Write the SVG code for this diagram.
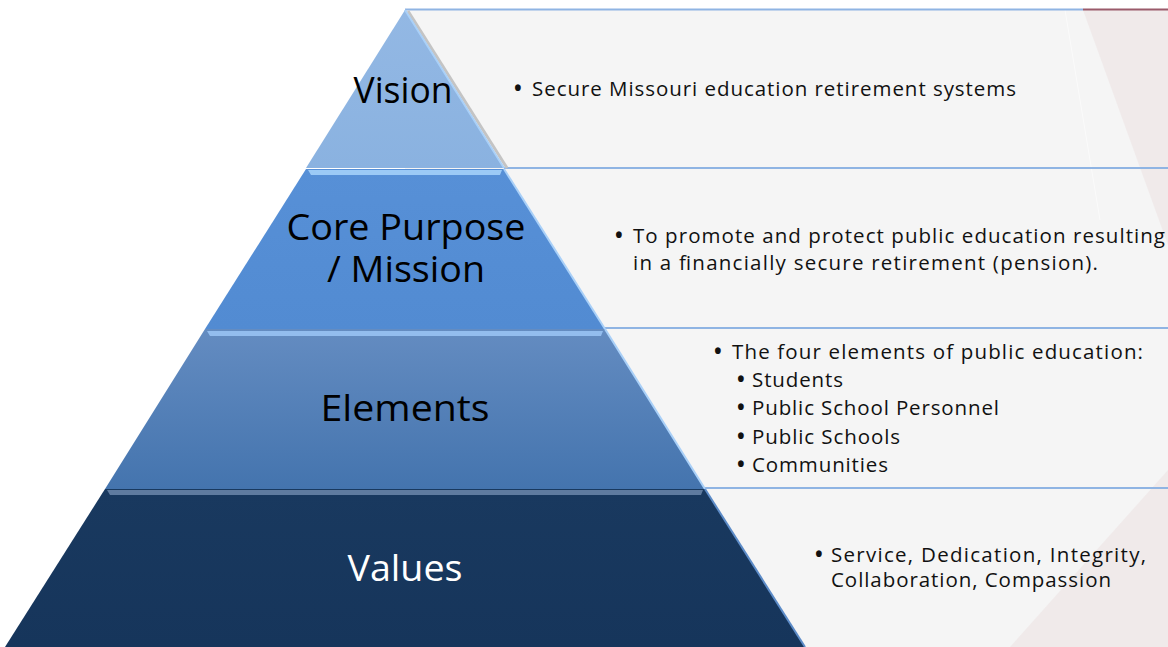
<svg xmlns="http://www.w3.org/2000/svg" width="1168" height="647" viewBox="0 0 1168 647">
<defs>
<linearGradient id="gVision" x1="0" y1="0" x2="0" y2="1"><stop offset="0" stop-color="#93b8e4"/><stop offset="1" stop-color="#8ab2e0"/></linearGradient>
<linearGradient id="gCore" x1="0" y1="0" x2="0" y2="1"><stop offset="0" stop-color="#5790d7"/><stop offset="1" stop-color="#528bd2"/></linearGradient>
<linearGradient id="gElem" x1="0" y1="0" x2="0" y2="1"><stop offset="0" stop-color="#648cc1"/><stop offset="1" stop-color="#4474ae"/></linearGradient>
<linearGradient id="gVal" x1="0" y1="0" x2="0" y2="1"><stop offset="0" stop-color="#19395f"/><stop offset="1" stop-color="#16355b"/></linearGradient>
<style>
.panel{fill:#f5f5f5}
.rule{stroke:#8fb4e3;stroke-width:2;fill:none}
.edge{stroke:#a9d0f8;stroke-width:2;fill:none}
.lbl{font-family:"Open Sans","Liberation Sans",sans-serif;font-size:36px;text-anchor:middle;fill:#000}
.txt{font-family:"Open Sans","Liberation Sans",sans-serif;font-size:20.5px;fill:#111}
.bul{font-family:"Open Sans","Liberation Sans",sans-serif;font-size:20.5px;font-weight:bold;fill:#111}
</style>
</defs>
<rect width="1168" height="647" fill="#ffffff"/>
<g id="background">
<rect class="panel" x="405" y="10" width="763" height="637"/>
<polygon points="1083,10 1168,10 1168,245" fill="#e8d6d6" opacity="0.35"/>
<polygon points="1168,470 1168,647 1010,647" fill="#e8d6d6" opacity="0.35"/>
<line x1="1065" y1="10" x2="1100" y2="220" stroke="#ffffff" stroke-width="1" opacity="0.6"/>
<line x1="405" y1="9.5" x2="1083" y2="9.5" class="rule"/>
<line x1="1083" y1="9.5" x2="1168" y2="9.5" stroke="#9a5a6a" stroke-width="2"/>
<line x1="504" y1="168" x2="1168" y2="168" class="rule"/>
<line x1="605" y1="328" x2="1168" y2="328" class="rule"/>
<line x1="705" y1="488" x2="1168" y2="488" class="rule"/>
</g>
<g id="vision">
<line x1="408" y1="11" x2="507" y2="168" stroke="#c4c4c4" stroke-width="3"/>
<polygon points="405,10 504,168 306,168" fill="url(#gVision)"/>
<line x1="405" y1="10" x2="504" y2="168" class="edge"/>
<text class="lbl" x="403" y="103" textLength="99" lengthAdjust="spacingAndGlyphs">Vision</text>
<text class="bul" x="514" y="96">•</text>
<text class="txt" x="532" y="96" textLength="484">Secure Missouri education retirement systems</text>
</g>
<g id="core-purpose">
<polygon points="306,169 504,169 605,329 205,329" fill="url(#gCore)"/>
<polygon points="308,170 502,170 500,175 311,175" fill="#9ccaf6"/>
<line x1="504" y1="169" x2="605" y2="329" class="edge"/>
<text class="lbl" x="406" y="240" textLength="239" lengthAdjust="spacingAndGlyphs">Core Purpose</text>
<text class="lbl" x="406" y="282" textLength="158" lengthAdjust="spacingAndGlyphs">/ Mission</text>
<text class="bul" x="615" y="243">•</text>
<text class="txt" x="633" y="243" textLength="532">To promote and protect public education resulting</text>
<text class="txt" x="633" y="270" textLength="465">in a financially secure retirement (pension).</text>
</g>
<g id="elements">
<polygon points="205,329 605,329 705,489 105,489" fill="url(#gElem)"/>
<polygon points="207,331 603,331 601,336 210,336" fill="#93bdee"/>
<line x1="605" y1="329" x2="705" y2="489" class="edge"/>
<text class="lbl" x="405" y="421" textLength="169" lengthAdjust="spacingAndGlyphs">Elements</text>
<text class="bul" x="714" y="359">•</text>
<text class="txt" x="732" y="359" textLength="411">The four elements of public education:</text>
<text class="bul" x="737" y="387">•</text>
<text class="txt" x="752" y="387" textLength="91">Students</text>
<text class="bul" x="737" y="415">•</text>
<text class="txt" x="752" y="415" textLength="247">Public School Personnel</text>
<text class="bul" x="737" y="444">•</text>
<text class="txt" x="752" y="444" textLength="148">Public Schools</text>
<text class="bul" x="737" y="472">•</text>
<text class="txt" x="752" y="472" textLength="136">Communities</text>
</g>
<g id="values">
<polygon points="105,489 705,489 805,647 5,647" fill="url(#gVal)"/>
<polygon points="107,490 703,490 701,495 110,495" fill="#5f7b9f"/>
<line x1="705" y1="489" x2="805" y2="647" stroke="#5d8cc8" stroke-width="2"/>
<text class="lbl" x="405" y="581" textLength="115" lengthAdjust="spacingAndGlyphs" style="fill:#ffffff">Values</text>
<text class="bul" x="815" y="562">•</text>
<text class="txt" x="831" y="562" textLength="315">Service, Dedication, Integrity,</text>
<text class="txt" x="831" y="587" textLength="280">Collaboration, Compassion</text>
</g>
</svg>
